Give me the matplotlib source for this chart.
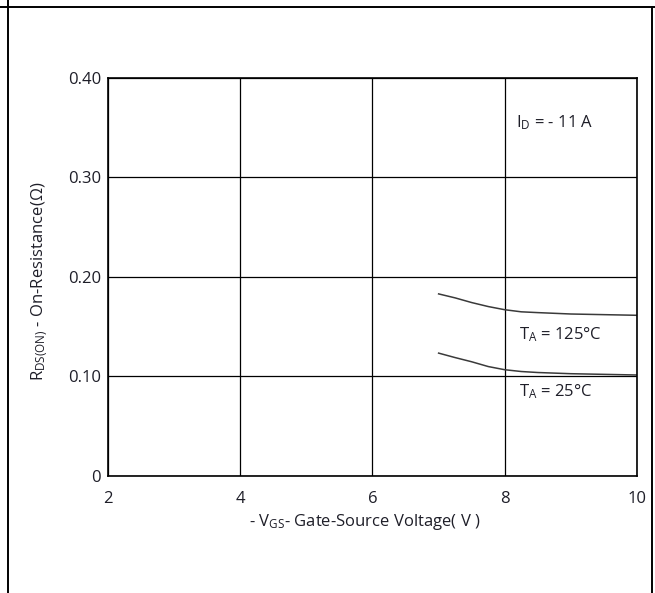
import matplotlib.pyplot as plt
from matplotlib.lines import Line2D

plt.rcParams['font.family'] = ['Open Sans', 'DejaVu Sans']
plt.rcParams['mathtext.fontset'] = 'custom'
plt.rcParams['mathtext.rm'] = 'Open Sans'
plt.rcParams['mathtext.it'] = 'Open Sans'
plt.rcParams['mathtext.default'] = 'regular'

# Rds(on) vs -Vgs, Id = -11 A
vgs = [7.0, 7.25, 7.5, 7.75, 8.0, 8.25, 8.5, 9.0, 10.0]
rds_125 = [0.183, 0.179, 0.1743, 0.1703, 0.1671, 0.1650, 0.1642, 0.1628, 0.1615]
rds_25 = [0.1235, 0.119, 0.1148, 0.1100, 0.1068, 0.1050, 0.1040, 0.1028, 0.1015]

xticks = [2, 4, 6, 8, 10]
yticks = [0, 0.10, 0.20, 0.30, 0.40]
ytick_labels = ['0', '0.10', '0.20', '0.30', '0.40']

txt = '#1e1e28'
fs = 12

fig = plt.figure(figsize=(6.55, 5.93), dpi=100)
ax = fig.add_axes([0.1649, 0.1973, 0.8076, 0.6712])

ax.plot(vgs, rds_125, color='#3a3a3a', lw=1.1)
ax.plot(vgs, rds_25, color='#3a3a3a', lw=1.1)

ax.set_xlim(2, 10)
ax.set_ylim(0, 0.40)
ax.set_xticks(xticks)
ax.set_yticks(yticks)
ax.set_yticklabels(ytick_labels)
ax.tick_params(length=0, labelsize=fs, colors=txt)
ax.tick_params(axis='y', pad=5)
ax.tick_params(axis='x', pad=11)
ax.grid(True, color='black', lw=0.9)
for s in ax.spines.values():
    s.set_linewidth(1.2)

ax.set_xlabel('- V$_{GS}$- Gate-Source Voltage( V )', fontsize=fs, color=txt)
ax.set_ylabel('R$_{DS(ON)}$ - On-Resistance($\\Omega$)', fontsize=fs, color=txt)
ax.xaxis.set_label_coords(0.485, -0.09)
ax.yaxis.set_label_coords(-0.11, 0.49)

ax.text(8.17, 0.355, 'I$_{D}$ = - 11 A', fontsize=fs, color=txt, va='center')
ax.text(8.22, 0.1425, 'T$_{A}$ = 125°C', fontsize=fs, color=txt, va='center')
ax.text(8.22, 0.0845, 'T$_{A}$ = 25°C', fontsize=fs, color=txt, va='center')

# outer frame
W, H = 655, 593
def fline(x0, y0, x1, y1):
    fig.add_artist(Line2D([x0 / W, x1 / W], [1 - y0 / H, 1 - y1 / H],
                          color='black', lw=1.4, transform=fig.transFigure))

fline(0, 6.5, W, 6.5)
fline(7.5, 0, 7.5, H)
fline(651.5, 6.5, 651.5, H)

fig.savefig('out.png', dpi=100)
